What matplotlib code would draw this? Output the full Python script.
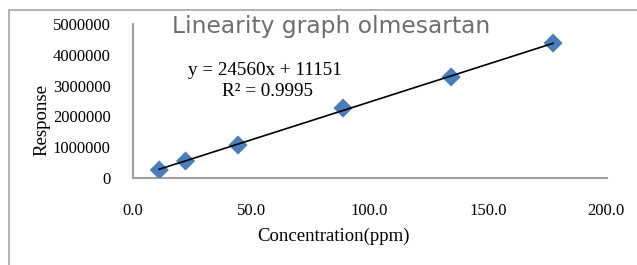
import matplotlib.pyplot as plt
import matplotlib.patches as patches
import numpy as np

# concentrations (ppm) and detector response
conc = [11.1, 22.2, 44.4, 88.8, 134.5, 177.6]
response = [260000, 552000, 1070000, 2270000, 3280000, 4380000]
slope = 24560
intercept = 11151
r2 = 0.9995

W, H = 637, 265
fig = plt.figure(figsize=(W / 100, H / 100), dpi=100)

# chart area frame (Excel style), runs off the right and bottom edges
fig.patches.append(patches.Rectangle((9 / W, -0.1), 1.2, 1.1 - 10 / H,
                                     transform=fig.transFigure, fill=False,
                                     edgecolor='#a6a6a6', linewidth=1.2))

ax = fig.add_axes([133 / W, (H - 178) / H, (607 - 133) / W, (178 - 24) / H])
ax.set_xlim(0, 200.4)
ax.set_ylim(0, 5000000)

ax.scatter(conc, response, marker='D', s=95, color='#4a7ebb', zorder=3,
           edgecolors='none')
xl = np.array([conc[0], conc[-1]])
ax.plot(xl, slope * xl + intercept, color='black', linewidth=1.2, zorder=4)

serif = ['Liberation Serif', 'DejaVu Serif']
ax.set_xticks([0, 50, 100, 150, 200])
ax.set_xticklabels([f"{v:.1f}" for v in [0, 50, 100, 150, 200]], family=serif, fontsize=12)
ax.set_yticks(range(0, 5000001, 1000000))
ax.set_yticklabels([str(v) for v in range(0, 5000001, 1000000)], family=serif, fontsize=12)
ax.tick_params(length=0)
ax.tick_params(axis='x', pad=18)
ax.tick_params(axis='y', pad=16)

for s in ['top', 'right']:
    ax.spines[s].set_visible(False)
for s in ['left', 'bottom']:
    ax.spines[s].set_color('#a0a0a0')
    ax.spines[s].set_linewidth(1.5)

fig.text(42 / W, 1 - 120 / H, "Response", rotation=90, ha='center', va='center',
         family=serif, fontsize=13.5)
fig.text(333 / W, 1 - 236 / H, "Concentration(ppm)", ha='center', va='center',
         family=serif, fontsize=13.5)
fig.text(331 / W, 1 - 26 / H, "Linearity graph olmesartan", ha='center', va='center',
         family=['DejaVu Sans'], fontsize=16.8, color='#6e6e6e')

fig.text(265 / W, 1 - 71 / H, f"y = {slope}x + {intercept}", ha='center', va='center',
         family=serif, fontsize=13.8)
fig.text(268 / W, 1 - 92 / H, f"R² = {r2}", ha='center', va='center',
         family=serif, fontsize=13.8)

fig.savefig("out.png", dpi=100)
